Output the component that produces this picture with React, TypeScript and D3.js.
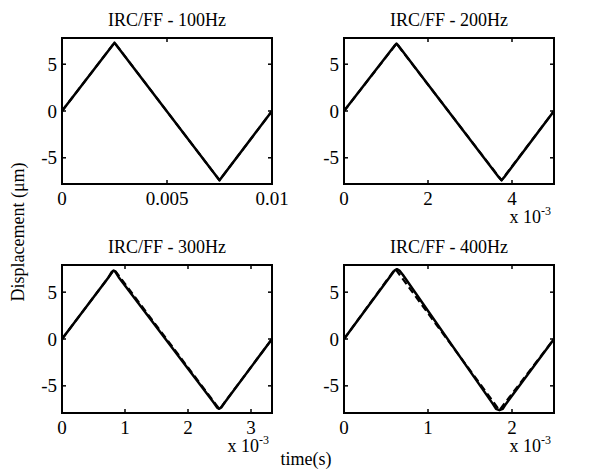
import * as d3 from "d3"

const TITLES = ["IRC/FF - 100Hz", "IRC/FF - 200Hz", "IRC/FF - 300Hz", "IRC/FF - 400Hz"]
const X_MAX = [0.01, 0.005, 0.0033333, 0.0025]
const X_TICKS = [[0, 0.005, 0.01], [0, 0.002, 0.004], [0, 0.001, 0.002, 0.003], [0, 0.001, 0.002]]
const X_TICK_LABELS = [["0", "0.005", "0.01"], ["0", "2", "4"], ["0", "1", "2", "3"], ["0", "1", "2"]]
const X_EXPONENT = ["", "-3", "-3", "-3"]
const Y_TICKS = [-5, 0, 5]
const Y_MAX = [7.8, 7.8, 7.9, 7.9]

// dashed series (FF), time in s, displacement in µm
const ffT100 = [0, 0.0025, 0.0075, 0.01]
const ffY100 = [0, 7.3, -7.4, 0]
const ffT200 = [0, 0.00125, 0.00375, 0.005]
const ffY200 = [0, 7.2, -7.4, 0]
const ffT300 = [0, 0.00083, 0.0025, 0.0033333]
const ffY300 = [0, 7.4, -7.5, 0]
const ffT400 = [0, 0.00061, 0.00185, 0.0025]
const ffY400 = [0, 7.5, -7.6, 0]

// solid series (IRC)
const ircT100 = [0, 0.0024, 0.0025, 0.0026, 0.0074, 0.0075, 0.0076, 0.01]
const ircY100 = [0, 7.0, 7.3, 7.0, -7.1, -7.4, -7.1, 0]
const ircT200 = [0, 0.00119, 0.00125, 0.00131, 0.00369, 0.00375, 0.00381, 0.005]
const ircY200 = [0, 6.9, 7.2, 6.9, -7.1, -7.4, -7.1, 0]
const ircT300 = [0, 0.00074, 0.00079, 0.00082, 0.00085, 0.0009, 0.00241, 0.00246, 0.00249, 0.00253, 0.00258, 0.0033333]
const ircY300 = [0, 6.6, 7.15, 7.3, 7.15, 6.6, -6.8, -7.3, -7.45, -7.3, -6.8, 0]
const ircT400 = [0, 0.00056, 0.0006, 0.00063, 0.00066, 0.0007, 0.00177, 0.00181, 0.00185, 0.00189, 0.00193, 0.0025]
const ircY400 = [0, 6.8, 7.3, 7.45, 7.3, 6.85, -6.9, -7.45, -7.6, -7.45, -6.9, 0]

const FF_T = [ffT100, ffT200, ffT300, ffT400]
const FF_Y = [ffY100, ffY200, ffY300, ffY400]
const IRC_T = [ircT100, ircT200, ircT300, ircT400]
const IRC_Y = [ircY100, ircY200, ircY300, ircY400]

const W = 602, H = 470
const LEFTS = [62, 344, 62, 344]
const TOPS = [38, 38, 265, 265]
const PW = 210
const PH = [146, 146, 148, 148]
const FONT = "'Liberation Serif', 'Times New Roman', serif"

function Panel({ i }: { i: number }) {
  const x0 = LEFTS[i], y0 = TOPS[i], h = PH[i]
  const x = d3.scaleLinear().domain([0, X_MAX[i]]).range([x0, x0 + PW])
  const y = d3.scaleLinear().domain([-Y_MAX[i], Y_MAX[i]]).range([y0 + h, y0])
  const ff = FF_T[i].map((t, k) => [x(t), y(FF_Y[i][k])] as [number, number])
  const irc = IRC_T[i].map((t, k) => [x(t), y(IRC_Y[i][k])] as [number, number])
  const path = d3.line()
  const tl = 4
  return (
    <g>
      <text x={x0 + PW / 2} y={y0 - 12.5} textAnchor="middle" fontSize={18}>{TITLES[i]}</text>
      <path d={path(ff) ?? ""} fill="none" stroke="#000" strokeWidth={2.2} strokeDasharray="7,4" strokeLinejoin="round" />
      <path d={path(irc) ?? ""} fill="none" stroke="#000" strokeWidth={2.5} strokeLinejoin="round" />
      {X_TICKS[i].map((t, k) => (
        <g key={"x" + k}>
          <line x1={x(t)} x2={x(t)} y1={y0 + h} y2={y0 + h - tl} stroke="#000" strokeWidth={1.5} />
          <line x1={x(t)} x2={x(t)} y1={y0} y2={y0 + tl} stroke="#000" strokeWidth={1.5} />
          <text x={x(t)} y={y0 + h + 21} textAnchor="middle" fontSize={19}>{X_TICK_LABELS[i][k]}</text>
        </g>
      ))}
      {Y_TICKS.map((v, k) => (
        <g key={"y" + k}>
          <line x1={x0} x2={x0 + tl} y1={y(v)} y2={y(v)} stroke="#000" strokeWidth={1.5} />
          <line x1={x0 + PW} x2={x0 + PW - tl} y1={y(v)} y2={y(v)} stroke="#000" strokeWidth={1.5} />
          <text x={x0 - 5} y={y(v)} dy="0.35em" textAnchor="end" fontSize={19}>{v}</text>
        </g>
      ))}
      {X_EXPONENT[i] && (
        <text x={x0 + PW - 3} y={y0 + h + 39} textAnchor="end" fontSize={18}>
          x 10<tspan fontSize={12} dy={-8}>{X_EXPONENT[i]}</tspan>
        </text>
      )}
      <rect x={x0} y={y0} width={PW} height={h} fill="none" stroke="#000" strokeWidth={2} />
    </g>
  )
}

export default function App() {
  return (
    <svg width={W} height={H} style={{ position: "absolute", left: 0, top: 0, display: "block", background: "#fff" }}
      fontFamily={FONT} fill="#000">
      <rect width={W} height={H} fill="#fff" />
      {TITLES.map((_, i) => <Panel key={i} i={i} />)}
      <text transform="translate(24,232) rotate(-90)" textAnchor="middle" fontSize={18}>Displacement (μm)</text>
      <text x={306} y={465} textAnchor="middle" fontSize={18}>time(s)</text>
    </svg>
  )
}
